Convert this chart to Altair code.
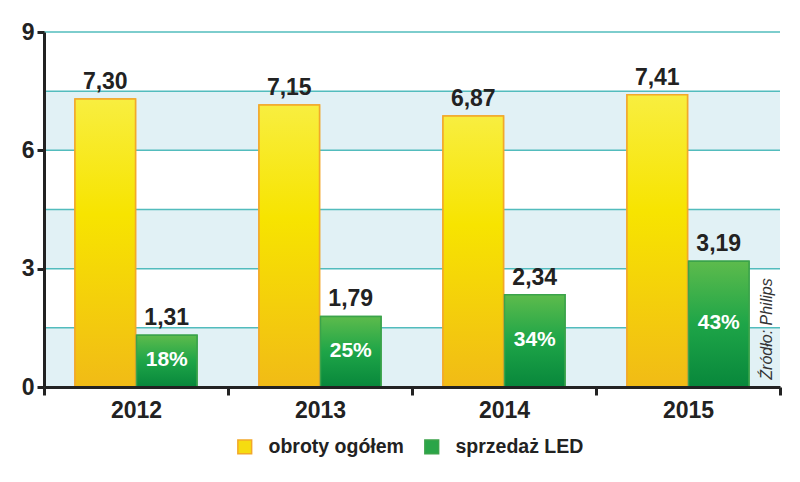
import altair as alt
import pandas as pd

years = ["2012", "2013", "2014", "2015"]
series = ["obroty ogółem", "sprzedaż LED"]
total = [7.30, 7.15, 6.87, 7.41]
led = [1.31, 1.79, 2.34, 3.19]
led_share = ["18%", "25%", "34%", "43%"]
y_ticks = [0, 3, 6, 9]
grid_values = [1.5, 3, 4.5, 6, 7.5, 9]
band_lo = [0, 3, 6]
band_hi = [1.5, 4.5, 7.5]
source_text = "Źródło: Philips"

W, H = 736, 355
FONT = "Liberation Sans"

rows = []
for i, yr in enumerate(years):
    rows.append({"year": yr, "series": series[0], "value": total[i],
                 "label": f"{total[i]:.2f}".replace(".", ","), "share": ""})
    rows.append({"year": yr, "series": series[1], "value": led[i],
                 "label": f"{led[i]:.2f}".replace(".", ","), "share": led_share[i]})
df = pd.DataFrame(rows)
df["half"] = df["value"] / 2

bands_df = pd.DataFrame({"lo": band_lo, "hi": band_hi})
grid_df = pd.DataFrame({"g": grid_values})

x_scale = alt.Scale(domain=years, paddingInner=0, paddingOuter=0)
x_axis = alt.Axis(title=None, labelAngle=0, labelFont=FONT, labelFontSize=23,
                  labelFontWeight="bold", labelColor="#222", tickBand="extent",
                  tickSize=8, tickWidth=3, tickColor="#222", domainWidth=3,
                  domainColor="#222", labelPadding=4, grid=False, zindex=1)
xoff = alt.XOffset("series:N", sort=series,
                   scale=alt.Scale(domain=series, paddingInner=0.016, paddingOuter=0.504))
y_scale = alt.Scale(domain=[0, 9], nice=False, zero=True)
y_axis = alt.Axis(values=y_ticks, title=None, grid=False, labelFont=FONT, labelFontSize=23,
                  labelFontWeight="bold", labelColor="#222", tickSize=7, tickWidth=3,
                  tickColor="#222", domainWidth=3, domainColor="#222", labelPadding=3,
                  zindex=1)


def X():
    return alt.X("year:N", sort=years, scale=x_scale, axis=x_axis)


def Y(field):
    return alt.Y(field, scale=y_scale, axis=y_axis)


bands = alt.Chart(bands_df).mark_rect(color="#e1f1f5").encode(
    x=alt.value(0), x2=alt.value(W), y=Y("lo:Q"), y2="hi:Q")

grid = alt.Chart(grid_df).mark_rule(color="#52bcbd", strokeWidth=1.5).encode(
    x=alt.value(0), x2=alt.value(W), y=Y("g:Q"))

base_bars = alt.Chart(df).mark_bar(strokeWidth=1.5).encode(
    x=X(), xOffset=xoff, y=Y("value:Q"),
    color=alt.Color("series:N", sort=series,
                    scale=alt.Scale(domain=series, range=["#f6dc10", "#2aa548"]),
                    legend=alt.Legend(orient="none", legendX=191, legendY=405,
                                      direction="horizontal", title=None,
                                      labelFont=FONT, labelFontSize=19.5, labelFontWeight="bold",
                                      labelColor="#222", symbolType="square", symbolSize=190,
                                      symbolStrokeWidth=1.5, columnPadding=17, labelOffset=14)),
    stroke=alt.Stroke("series:N", sort=series,
                      scale=alt.Scale(domain=series, range=["#f2a82a", "#3ba34a"]),
                      legend=None))

yellow_grad = alt.Gradient(gradient="linear", x1=0, x2=0, y1=0, y2=1, stops=[
    alt.GradientStop(color="#f8ee40", offset=0),
    alt.GradientStop(color="#f7e400", offset=0.4),
    alt.GradientStop(color="#f1bb16", offset=1)])
green_grad = alt.Gradient(gradient="linear", x1=0, x2=0, y1=0, y2=1, stops=[
    alt.GradientStop(color="#5dbb4c", offset=0),
    alt.GradientStop(color="#1ea548", offset=0.5),
    alt.GradientStop(color="#08873b", offset=1)])

yellow_bars = alt.Chart(df).transform_filter(alt.datum.series == series[0]).mark_bar(
    color=yellow_grad, stroke="#f2a82a", strokeWidth=1.5).encode(
    x=X(), xOffset=xoff, y=Y("value:Q"))
green_bars = alt.Chart(df).transform_filter(alt.datum.series == series[1]).mark_bar(
    color=green_grad, stroke="#3ba34a", strokeWidth=1.5).encode(
    x=X(), xOffset=xoff, y=Y("value:Q"))

value_labels = alt.Chart(df).mark_text(font=FONT, fontSize=23, fontWeight="bold",
                                       color="#222", baseline="alphabetic", dy=-10).encode(
    x=X(), xOffset=xoff, y=Y("value:Q"), text="label:N")

share_labels = alt.Chart(df).transform_filter(alt.datum.series == series[1]).mark_text(
    font=FONT, fontSize=21, fontWeight="bold", color="white", baseline="middle", dy=-1).encode(
    x=X(), xOffset=xoff, y=Y("half:Q"), text="share:N")

source = alt.Chart(pd.DataFrame({"t": [source_text]})).mark_text(
    font=FONT, fontSize=16, fontStyle="italic", color="#333", angle=270,
    align="center", baseline="middle").encode(
    x=alt.value(W - 13), y=alt.datum(1.47), text="t:N")

chart = alt.layer(bands, grid, base_bars, yellow_bars, green_bars, value_labels,
                  share_labels, source).properties(
    width=W, height=H,
    autosize=alt.AutoSizeParams(type="none"),
    padding={"left": 36, "top": 24, "right": 12, "bottom": 87},
    background="white"
).configure_view(stroke=None)

chart.save("out.html", embed_options={"renderer": "svg", "actions": False})
